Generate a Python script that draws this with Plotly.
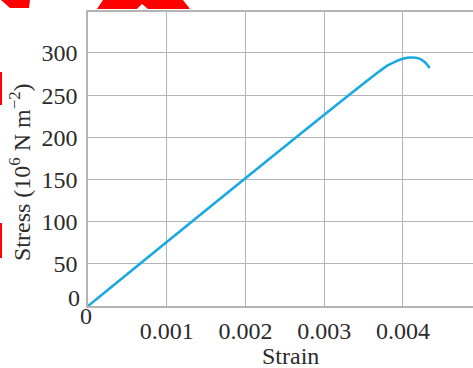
import plotly.graph_objects as go

strain = [0.0, 0.0038, 0.0039, 0.0040, 0.0041, 0.0042, 0.00428, 0.00434]
stress = [0.0, 285.0, 289.5, 293.0, 294.5, 293.5, 289.0, 282.0]

x_ticks = [0.001, 0.002, 0.003, 0.004]
x_tick_labels = ["0.001", "0.002", "0.003", "0.004"]
y_ticks = [50, 100, 150, 200, 250, 300]
y_tick_labels = ["50", "100", "150", "200", "250", "300"]

W, H = 473, 368
L, R, T, B = 88, 0, 12, 62
PW, PH = W - L - R, H - T - B


def px(x):
    return (x - L) / PW


def py(y):
    return (H - B - y) / PH


FONT = "Liberation Serif"
FS = 24
TXT = "#2b2b2b"
GRID = "#b4b4b4"

fig = go.Figure()
fig.add_trace(go.Scatter(
    x=strain, y=stress, mode="lines",
    line=dict(color="#1ba9e1", width=2.5, shape="spline", smoothing=0.6),
    hoverinfo="skip", showlegend=False,
))

red_polys = [
    [(1, 0), (30, 0), (29, 8), (10, 8)],
    [(103, 0), (183, 0), (190, 9), (148, 9), (142, 4), (137, 9), (97, 9)],
    [(0, 72), (2, 72), (2, 105), (0, 105)],
    [(0, 223), (2, 223), (2, 258), (0, 258)],
]
shapes = []
for poly in red_polys:
    path = "M " + " L ".join(f"{px(a):.5f},{py(b):.5f}" for a, b in poly) + " Z"
    shapes.append(dict(type="path", xref="paper", yref="paper", path=path,
                       fillcolor="#ff0000", line=dict(width=0), layer="above"))

annotations = [
    dict(text="0", xref="paper", yref="paper", x=px(86), y=py(316),
         showarrow=False, font=dict(family=FONT, size=FS, color=TXT),
         xanchor="center", yanchor="middle"),
    dict(text="0", xref="paper", yref="paper", x=px(82), y=py(298),
         showarrow=False, font=dict(family=FONT, size=FS, color=TXT),
         xanchor="right", yanchor="middle"),
    dict(text="Strain", xref="paper", yref="paper", x=px(290), y=py(356),
         showarrow=False, font=dict(family=FONT, size=FS, color=TXT),
         xanchor="center", yanchor="middle"),
    dict(text="Stress (10<sup>6</sup> N m<sup>\u22122</sup>)", xref="paper", yref="paper",
         x=px(20), y=py(172), textangle=-90,
         showarrow=False, font=dict(family=FONT, size=FS, color=TXT),
         xanchor="center", yanchor="middle"),
]

fig.update_layout(
    width=W, height=H,
    margin=dict(l=L, r=R, t=T, b=B, pad=0),
    paper_bgcolor="white", plot_bgcolor="white",
    shapes=shapes, annotations=annotations,
    xaxis=dict(range=[0, 0.00489], tickvals=x_ticks, ticktext=x_tick_labels,
               showgrid=True, gridcolor=GRID, gridwidth=1,
               showline=True, linecolor=GRID, linewidth=1.5, mirror=True,
               zeroline=False, ticks="", ticklabelstandoff=2,
               tickfont=dict(family=FONT, size=FS, color=TXT), fixedrange=True),
    yaxis=dict(range=[0, 348.5], tickvals=y_ticks, ticktext=y_tick_labels,
               showgrid=True, gridcolor=GRID, gridwidth=1,
               showline=True, linecolor=GRID, linewidth=1.5,
               zeroline=False, ticks="", ticklabelstandoff=4,
               tickfont=dict(family=FONT, size=FS, color=TXT), fixedrange=True),
)

fig.write_html(
    "out.html",
    config={"displayModeBar": False},
    post_script="document.body.style.margin='0';document.body.style.overflow='hidden';",
)
